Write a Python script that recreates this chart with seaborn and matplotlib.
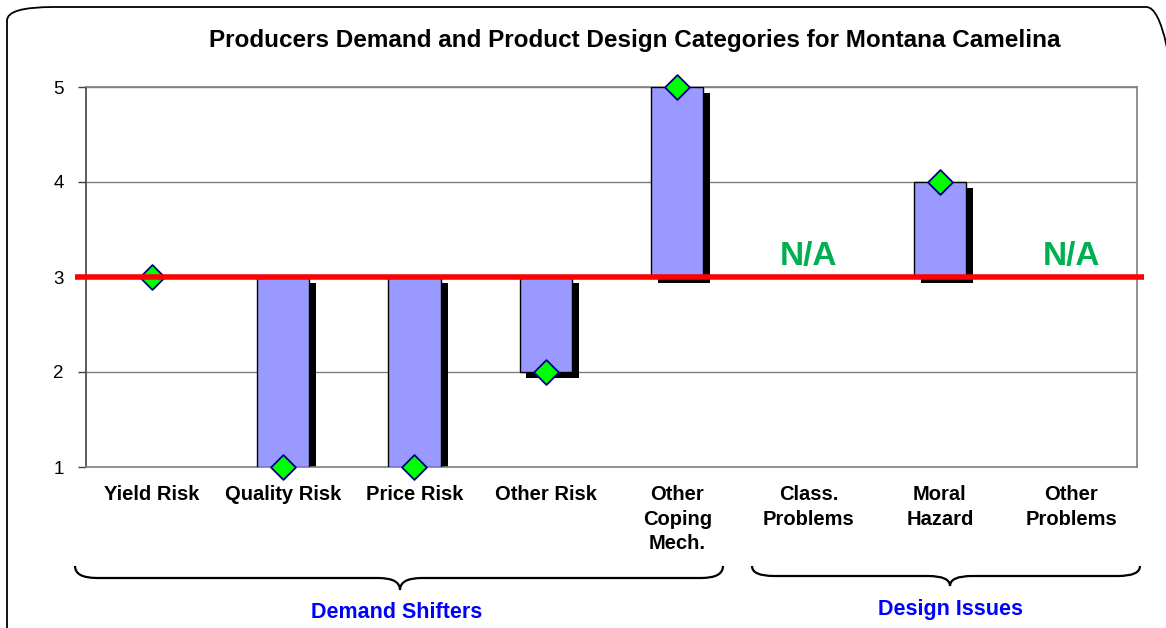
import numpy as np
import pandas as pd
import matplotlib
matplotlib.use("Agg")
import matplotlib.pyplot as plt
import seaborn as sns
from matplotlib.patches import FancyBboxPatch, PathPatch
from matplotlib.path import Path
from matplotlib import transforms

# ---------------- data ----------------
categories = ["Yield Risk", "Quality Risk", "Price Risk", "Other Risk",
              "Other\nCoping\nMech.", "Class.\nProblems", "Moral\nHazard",
              "Other\nProblems"]
scores = [3, 1, 1, 2, 5, np.nan, 4, np.nan]
baseline = 3
na_labels = ["", "", "", "", "", "N/A", "", "N/A"]
groups = ["Demand Shifters", "Design Issues"]
y_ticks = [1, 2, 3, 4, 5]
title = "Producers Demand and Product Design Categories for Montana Camelina"

sns.set_theme(style="white")
plt.rcParams["font.family"] = ["Liberation Sans", "DejaVu Sans"]
plt.rcParams["text.color"] = "black"
plt.rcParams["xtick.color"] = "black"
plt.rcParams["ytick.color"] = "black"

W, H = 1166, 628
fig = plt.figure(figsize=(W / 100, H / 100), dpi=100)
fig.patch.set_facecolor("white")

# rounded frame
frame = FancyBboxPatch((7 / W, -0.03), (W + 20) / W, 1 - 7 / H + 0.03,
                       boxstyle="round,pad=0,rounding_size=0.04",
                       transform=fig.transFigure, facecolor="none",
                       edgecolor="black", lw=1.3, mutation_aspect=H / W)
fig.patches.append(frame)

ax = fig.add_axes([86 / W, 1 - 467 / H, (1137 - 86) / W, (467 - 87) / H])
df = pd.DataFrame({"cat": categories, "score": scores, "pos": np.arange(len(categories))})
df["height"] = df["score"] - baseline

# gridlines
for yv in y_ticks[1:]:
    ax.axhline(yv, color="#7f7f7f", lw=1.0, zorder=1)

# shadows
shadow_tr = ax.transData + transforms.ScaledTranslation(5 / 72, -4 / 72, fig.dpi_scale_trans)
ax.bar(df["pos"], df["height"], bottom=baseline, width=0.40, color="black",
       edgecolor="black", lw=0, zorder=2, transform=shadow_tr)
# bars
ax.bar(df["pos"], df["height"], bottom=baseline, width=0.40, color="#9999ff",
       edgecolor="black", lw=1.0, zorder=3)

# diamonds
sns.scatterplot(data=df.dropna(), x="pos", y="score", marker="D", s=160,
                color="#00ff00", edgecolor="#000080", linewidth=1.3,
                zorder=4, ax=ax, legend=False, clip_on=False)

# red reference line
ax.plot([-0.58, 7.55], [baseline, baseline], color="#ff0000", lw=4.0,
        zorder=5, clip_on=False, solid_capstyle="butt")

# N/A labels
for i, t in enumerate(na_labels):
    if t:
        ax.text(i, baseline + 0.05, t, ha="center", va="bottom", color="#00b050",
                fontsize=24, fontweight="bold", zorder=6)

ax.set_xlim(-0.5, len(categories) - 0.5)
ax.set_ylim(1, 5)
ax.set_yticks(y_ticks)
ax.set_yticklabels([str(v) for v in y_ticks], fontsize=13.5, color="black")
ax.set_xticks(df["pos"])
ax.set_xticklabels(categories, fontsize=14.5, fontweight="bold",
                   linespacing=1.38, color="black")
ax.tick_params(axis="y", left=True, length=6, width=1, color="#404040", pad=10)
ax.tick_params(axis="x", bottom=False, length=0, pad=13)
for lab in ax.get_xticklabels():
    lab.set_verticalalignment("top")
ax.set_xlabel("")
ax.set_ylabel("")
for side in ["top", "right", "bottom"]:
    ax.spines[side].set_color("#7f7f7f")
    ax.spines[side].set_linewidth(1.2)
ax.spines["left"].set_color("#404040")
ax.spines["left"].set_linewidth(1.2)

fig.text(635 / W, 1 - 40 / H, title, ha="center", va="center",
         fontsize=17.5, fontweight="bold", color="black")

# braces in pixel coordinates
pix = transforms.Affine2D().scale(1 / W, -1 / H).translate(0, 1) + fig.transFigure


def brace(x0, x1, xm, ytop, ymid, ytip):
    r = 22
    verts = [(x0, ytop), (x0, ymid), (x0 + r, ymid), (xm - r, ymid),
             (xm, ymid), (xm, ytip), (xm, ymid), (xm + r, ymid),
             (x1 - r, ymid), (x1, ymid), (x1, ytop)]
    codes = [Path.MOVETO, Path.CURVE3, Path.CURVE3, Path.LINETO,
             Path.CURVE3, Path.CURVE3, Path.CURVE3, Path.CURVE3,
             Path.LINETO, Path.CURVE3, Path.CURVE3]
    fig.patches.append(PathPatch(Path(verts, codes), transform=pix,
                                 facecolor="none", edgecolor="black", lw=1.6))


brace(75, 723, 400, 566, 578, 590)
brace(752, 1140, 950, 566, 576, 586)

fig.text(397 / W, 1 - 613 / H, groups[0], ha="center", va="center",
         color="#0000ff", fontsize=15.5, fontweight="bold")
fig.text(950 / W, 1 - 609 / H, groups[1], ha="center", va="center",
         color="#0000ff", fontsize=15.5, fontweight="bold")

fig.savefig("out.png", dpi=100, facecolor="white")
